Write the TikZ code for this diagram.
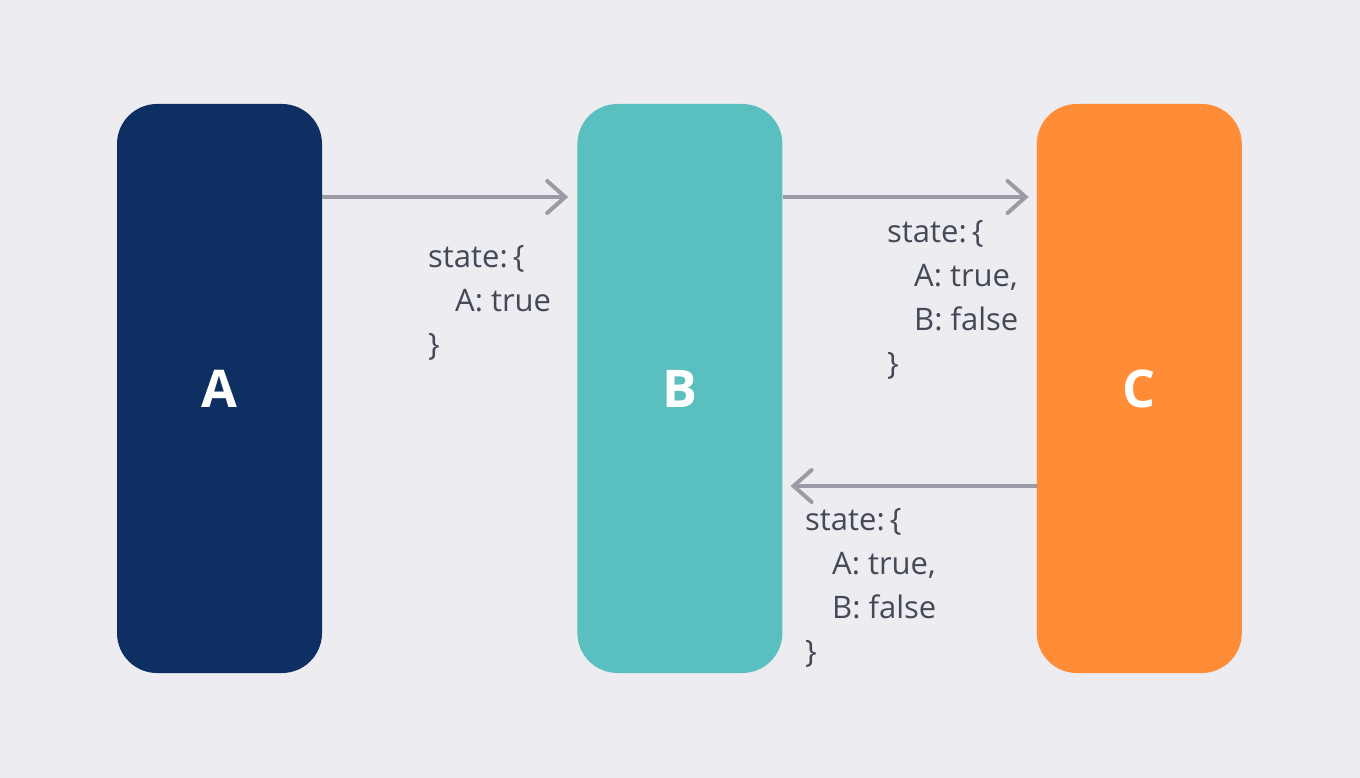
\documentclass[tikz,border=0pt]{standalone}
\usepackage{fontspec}
\setmainfont{Open Sans}
\usetikzlibrary{arrows.meta}
\usetikzlibrary{positioning}

\definecolor{bg}{HTML}{ECECF1}
\definecolor{navy}{HTML}{0D2F61}
\definecolor{teal}{HTML}{5ABFBF}
\definecolor{orange}{HTML}{FF8C36}
\definecolor{wire}{HTML}{9B9BA6}
\definecolor{ink}{HTML}{434957}

\begin{document}
\begin{tikzpicture}[x=1pt,y=-1pt,
    box/.style={rounded corners=40pt,minimum width=205pt,minimum height=569pt,
        inner sep=0pt,text=white,font=\fontsize{52}{52}\selectfont\bfseries},
    flow/.style={draw=wire,line width=4pt,
        -{Straight Barb[length=18pt,width=32pt,line cap=round]}},
    msg/.style={anchor=base west,align=left,inner sep=0pt,text=ink,
        font=\fontsize{31}{44}\selectfont}]
    \fill[bg] (0,0) rectangle (1360,778);
    \useasboundingbox (0,0) rectangle (1360,778);

    \node[box,fill=navy] (A) at (219.5,388.5) {A};
    \node[box,fill=teal,right=255pt of A] (B) {B};
    \node[box,fill=orange,right=254pt of B] (C) {C};

    \draw[flow] ([yshift=191.5pt]A.east) -- ([xshift=-9pt,yshift=191.5pt]B.west);
    \draw[flow] ([yshift=191.5pt]B.east) -- ([xshift=-8pt,yshift=191.5pt]C.west);
    \draw[flow] ([yshift=-97.5pt]C.west) -- ([xshift=8pt,yshift=-97.5pt]B.east);

    % anchor is the baseline of the last line
    \node[msg] (m1) at (428,355) {state:\,\{\\\hspace*{27pt}A: true\\\}};
    \node[msg] (m2) at (887,374) {state:\,\{\\\hspace*{27pt}A: true,\\\hspace*{27pt}B: false\\\}};
    \node[msg] (m3) at (805,662) {state:\,\{\\\hspace*{27pt}A: true,\\\hspace*{27pt}B: false\\\}};
\end{tikzpicture}
\end{document}
